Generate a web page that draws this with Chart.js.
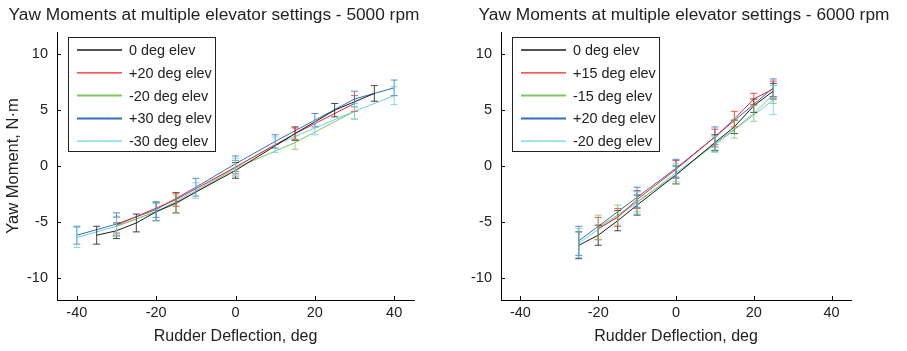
<!DOCTYPE html>
<html>
<head>
<meta charset="utf-8">
<script src="https://cdn.jsdelivr.net/npm/chart.js@4.4.1/dist/chart.umd.min.js"></script>
<style>
  body { margin: 0; background: #fff; }
  .plot { position: absolute; top: 0; height: 351px; }
  #left { left: 0; width: 450px; }
  #right { left: 450px; width: 457px; }
</style>
</head>
<body>
<div class="plot" id="left"><canvas id="c5000"></canvas></div>
<div class="plot" id="right"><canvas id="c6000"></canvas></div>
<script>
// axis ticks (both panels)
const xTicks = [-40, -20, 0, 20, 40];
const yTicks = [-10, -5, 0, 5, 10];

// 5000 rpm
const labels5000 = ['0 deg elev', '+20 deg elev', '-20 deg elev', '+30 deg elev', '-30 deg elev'];
const x5000_0 = [-35, -30, -25, -20, -15, 0, 15, 25, 35];
const y5000_0 = [-6.2, -5.8, -5.1, -4.1, -3.3, -0.4, 2.9, 5.0, 6.5];
const e5000_0 = [0.8, 0.7, 0.8, 0.8, 0.9, 0.7, 0.6, 0.6, 0.7];
const x5000_p20 = [-30, -15, 0, 15, 30];
const y5000_p20 = [-5.3, -3.0, -0.1, 2.9, 5.6];
const e5000_p20 = [0.7, 0.6, 0.6, 0.5, 0.7];
const x5000_m20 = [-30, -15, 0, 15, 30];
const y5000_m20 = [-5.4, -3.4, -0.2, 2.1, 4.9];
const e5000_m20 = [0.9, 0.8, 0.7, 0.6, 0.7];
const x5000_p30 = [-40, -30, -20, -10, 0, 10, 20, 30, 40];
const y5000_p30 = [-6.2, -5.2, -3.9, -1.9, 0.2, 2.2, 4.1, 6.0, 7.0];
const e5000_p30 = [0.8, 1.0, 0.7, 0.8, 0.7, 0.6, 0.6, 0.7, 0.7];
const x5000_m30 = [-40, -30, -20, -10, 0, 10, 20, 30, 40];
const y5000_m30 = [-6.4, -5.4, -4.1, -2.2, -0.1, 1.9, 3.4, 4.9, 6.3];
const e5000_m30 = [0.9, 0.8, 0.8, 0.7, 0.8, 0.7, 0.6, 0.7, 0.8];

// 6000 rpm
const labels6000 = ['0 deg elev', '+15 deg elev', '-15 deg elev', '+20 deg elev', '-20 deg elev'];
const x6000_0 = [-25, -20, -15, -10, 0, 10, 15, 20, 25];
const y6000_0 = [-7.1, -6.2, -4.9, -3.5, -0.8, 2.1, 3.5, 5.4, 6.7];
const e6000_0 = [1.2, 0.9, 0.9, 0.9, 0.8, 0.7, 0.6, 0.6, 0.7];
const x6000_p15 = [-20, -15, -10, 0, 10, 15, 20, 25];
const y6000_p15 = [-5.6, -4.6, -3.0, -0.3, 2.6, 4.2, 6.0, 6.9];
const e6000_p15 = [1.0, 0.8, 0.8, 0.8, 0.7, 0.7, 0.5, 0.7];
const x6000_m15 = [-20, -15, -10, 0, 10, 15, 20, 25];
const y6000_m15 = [-5.5, -4.4, -3.2, -0.8, 2.0, 3.3, 4.7, 6.4];
const e6000_m15 = [1.1, 0.9, 0.9, 0.8, 0.7, 0.8, 0.7, 0.8];
const x6000_p20 = [-25, -10, 0, 10, 25];
const y6000_p20 = [-6.7, -2.8, -0.2, 2.6, 7.0];
const e6000_p20 = [1.3, 0.9, 0.8, 0.9, 0.8];
const x6000_m20 = [-25, -10, 0, 10, 25];
const y6000_m20 = [-6.9, -3.3, -0.6, 1.9, 5.9];
const e6000_m20 = [1.3, 1.0, 0.8, 0.7, 1.3];

const colors = ['#1a1a1a', '#ff2020', '#7cc963', '#2f6fc4', '#6ccfe2'];
const FONT = '"Liberation Sans", Arial, sans-serif';

function series(label, xs, ys, errs, color) {
  return {
    label,
    data: xs.map((x, i) => ({ x, y: ys[i] })),
    err: errs,
    borderColor: color,
    backgroundColor: color,
    borderWidth: 1,
    pointRadius: 0,
    tension: 0,
  };
}

// vertical error bars with caps, drawn through the scales
const errorBars = {
  id: 'errorBars',
  afterDatasetsDraw(chart) {
    const { ctx, scales: { x, y } } = chart;
    ctx.save();
    ctx.lineWidth = 1;
    ctx.globalAlpha = 0.8;
    chart.data.datasets.forEach(ds => {
      ctx.strokeStyle = ds.borderColor;
      ds.data.forEach((p, i) => {
        const px = x.getPixelForValue(p.x);
        const top = y.getPixelForValue(p.y + ds.err[i]);
        const bot = y.getPixelForValue(p.y - ds.err[i]);
        ctx.beginPath();
        ctx.moveTo(px, top); ctx.lineTo(px, bot);
        ctx.moveTo(px - 3.5, top); ctx.lineTo(px + 3.5, top);
        ctx.moveTo(px - 3.5, bot); ctx.lineTo(px + 3.5, bot);
        ctx.stroke();
      });
    });
    ctx.restore();
  }
};

// MATLAB-like inward ticks
const inTicks = {
  id: 'inTicks',
  afterDraw(chart) {
    const { ctx, chartArea: a, scales: { x, y } } = chart;
    ctx.save();
    ctx.strokeStyle = '#000';
    ctx.lineWidth = 1;
    ctx.beginPath();
    x.ticks.forEach(t => {
      const px = Math.round(x.getPixelForValue(t.value)) + 0.5;
      ctx.moveTo(px, a.bottom); ctx.lineTo(px, a.bottom - 4);
    });
    y.ticks.forEach(t => {
      const py = Math.round(y.getPixelForValue(t.value)) + 0.5;
      ctx.moveTo(a.left, py); ctx.lineTo(a.left + 4, py);
    });
    ctx.stroke();
    ctx.restore();
  }
};

// boxed legend in the upper-left corner of the plot
const boxLegend = {
  id: 'boxLegend',
  afterDraw(chart) {
    const { ctx, chartArea: a } = chart;
    const bx = a.left + 11, by = a.top + 5, bw = 147, bh = 114;
    ctx.save();
    ctx.fillStyle = '#fff';
    ctx.fillRect(bx, by, bw, bh);
    ctx.strokeStyle = '#222';
    ctx.lineWidth = 1;
    ctx.strokeRect(bx + 0.5, by + 0.5, bw, bh);
    ctx.font = '14.4px ' + FONT;
    ctx.textBaseline = 'middle';
    chart.data.datasets.forEach((ds, i) => {
      const ry = by + 13 + i * 22.8;
      ctx.strokeStyle = ds.borderColor;
      ctx.lineWidth = (i === 2 || i === 3) ? 2 : 1.3;
      ctx.beginPath();
      ctx.moveTo(bx + 9, ry); ctx.lineTo(bx + 54, ry);
      ctx.stroke();
      ctx.fillStyle = '#222';
      ctx.fillText(ds.label, bx + 61, ry + 1);
    });
    ctx.restore();
  }
};

// panel title placed at a given centre (page coordinates minus canvas offset)
const panelTitle = {
  id: 'panelTitle',
  afterDraw(chart, args, opts) {
    const { ctx } = chart;
    ctx.save();
    ctx.font = '17.3px ' + FONT;
    ctx.fillStyle = '#222';
    ctx.textAlign = 'center';
    ctx.textBaseline = 'alphabetic';
    ctx.fillText(opts.text, opts.cx, 20);
    ctx.restore();
  }
};

function makeChart(id, title, titleCx, datasets, yWidth, padRight, showYTitle) {
  new Chart(document.getElementById(id), {
    type: 'line',
    data: { datasets },
    options: {
      responsive: true,
      maintainAspectRatio: false,
      animation: false,
      layout: { padding: { left: 0, right: padRight, top: 32, bottom: 0 } },
      plugins: {
        legend: { display: false },
        tooltip: { enabled: false },
        title: { display: false },
        panelTitle: { text: title, cx: titleCx },
      },
      scales: {
        x: {
          type: 'linear', min: -45, max: 45,
          afterBuildTicks: s => { s.ticks = xTicks.map(v => ({ value: v })); },
          afterFit: s => { s.height = 51; },
          grid: { drawOnChartArea: false, drawTicks: false },
          border: { display: true, color: '#000', width: 1 },
          ticks: { color: '#222', padding: 4, font: { family: FONT, size: 14.5 } },
          title: { display: true, text: 'Rudder Deflection, deg', color: '#222',
                   font: { family: FONT, size: 16 }, padding: { top: 0, bottom: 5 } },
        },
        y: {
          type: 'linear', min: -12, max: 12,
          afterBuildTicks: s => { s.ticks = yTicks.map(v => ({ value: v })); },
          afterFit: s => { s.width = yWidth; },
          grid: { drawOnChartArea: false, drawTicks: false },
          border: { display: true, color: '#000', width: 1 },
          ticks: { color: '#222', padding: 9, font: { family: FONT, size: 14.5 } },
          title: { display: showYTitle, text: 'Yaw Moment, N·m', color: '#222',
                   font: { family: FONT, size: 16.5 }, padding: { top: 4, bottom: 0 } },
        },
      },
    },
    plugins: [errorBars, inTicks, boxLegend, panelTitle],
  });
}

makeChart('c5000', 'Yaw Moments at multiple elevator settings - 5000 rpm', 214, [
  series(labels5000[0], x5000_0, y5000_0, e5000_0, colors[0]),
  series(labels5000[1], x5000_p20, y5000_p20, e5000_p20, colors[1]),
  series(labels5000[2], x5000_m20, y5000_m20, e5000_m20, colors[2]),
  series(labels5000[3], x5000_p30, y5000_p30, e5000_p30, colors[3]),
  series(labels5000[4], x5000_m30, y5000_m30, e5000_m30, colors[4]),
], 57, 36, true);

makeChart('c6000', 'Yaw Moments at multiple elevator settings - 6000 rpm', 234, [
  series(labels6000[0], x6000_0, y6000_0, e6000_0, colors[0]),
  series(labels6000[1], x6000_p15, y6000_p15, e6000_p15, colors[1]),
  series(labels6000[2], x6000_m15, y6000_m15, e6000_m15, colors[2]),
  series(labels6000[3], x6000_p20, y6000_p20, e6000_p20, colors[3]),
  series(labels6000[4], x6000_m20, y6000_m20, e6000_m20, colors[4]),
], 51, 56, false);
</script>
</body>
</html>
